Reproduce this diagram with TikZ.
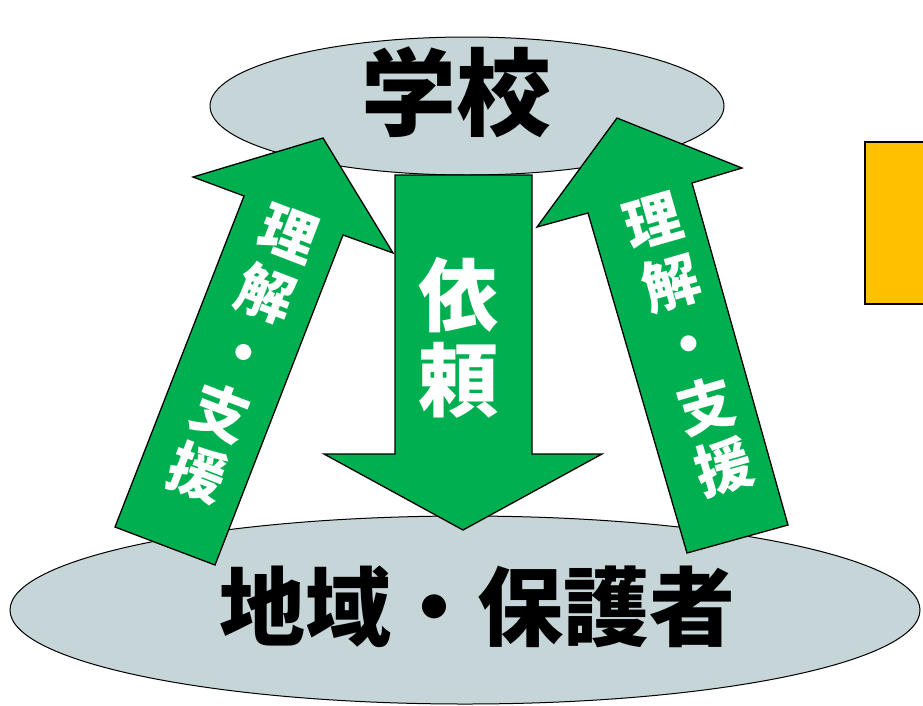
\documentclass[tikz,border=0pt]{standalone}
\usepackage{fontspec}
\newfontfamily\jp{Noto Sans CJK JP}
\usetikzlibrary{shapes.geometric}
\definecolor{arrowgreen}{HTML}{00B050}
\definecolor{ellgray}{HTML}{C5D5D8}
\definecolor{boxorange}{HTML}{FFC000}
\tikzset{
  ellnode/.style={ellipse, draw=black, line width=1pt, fill=ellgray, inner sep=0pt},
  blockarrow/.style={draw=black, line width=1.3pt, fill=arrowgreen, line join=miter},
  bigtext/.style={font=\jp\bfseries\fontsize{#1}{#1}\selectfont, text=black, inner sep=0pt},
  arrowtext/.style={font=\jp\bfseries\fontsize{#1}{1.1*#1}\selectfont, text=white, align=center, inner sep=0pt},
}
\begin{document}
\begin{tikzpicture}[x=1pt,y=-1pt]
\useasboundingbox (0,0) rectangle (923,705);
\clip (0,0) rectangle (923,705);
\fill[white] (0,0) rectangle (923,705);
% ellipses
\node[ellnode, minimum width=514pt, minimum height=138pt] (school) at (467,106) {};
\node[ellnode, minimum width=910pt, minimum height=188pt] (community) at (465,610) {};
% orange box
\node[draw=black, line width=2pt, fill=boxorange, minimum width=80pt, minimum height=162pt, inner sep=0pt] (box) at (905,223) {};
% left arrow
\draw[blockarrow] (323,138) -- (393,253) -- (343,235) -- (215,565) -- (115,527) -- (244,196) -- (193,177) -- cycle;
% middle arrow
\draw[blockarrow] (395,175) -- (532,175) -- (532,454) -- (602,454) -- (463,530) -- (324,454) -- (395,454) -- cycle;
% right arrow
\draw[blockarrow] (617,118) -- (742,168) -- (692,183) -- (788,525) -- (687,553) -- (588,213) -- (537,227) -- cycle;
% texts
\node[bigtext=95] (schooltext) at (456,92) {学校};
\node[bigtext=86] (communitytext) at (477,607) {地域・保護者};
\node[arrowtext=80, font=\jp\bfseries\fontsize{80}{85}\selectfont] (irai) at (458,338) {依\\頼};
\node[arrowtext=57, font=\jp\bfseries\fontsize{57}{64}\selectfont, rotate=-21] (leftlabel) at (243,354) {理\\解\\・\\支\\援};
\node[arrowtext=57, font=\jp\bfseries\fontsize{57}{64}\selectfont, rotate=16] (rightlabel) at (689,345) {理\\解\\・\\支\\援};
\end{tikzpicture}
\end{document}
